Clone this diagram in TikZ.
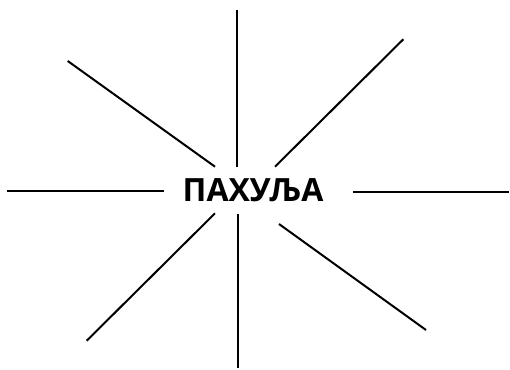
\documentclass[tikz,border=0pt]{standalone}
\usepackage{fontspec}
\setmainfont{Open Sans}
\begin{document}
\begin{tikzpicture}[x=0.75pt,y=-0.75pt,ray/.style={draw=black,line width=1.5pt}]
\useasboundingbox (0,0) rectangle (510,370);
\node[font=\fontsize{24pt}{28pt}\selectfont\bfseries,inner sep=0pt] (word) at (253,190) {ПАХУЉА};
\coordinate (t1) at (236.5,10.5); \coordinate (t2) at (236.5,167);
\coordinate (tl1) at (67.7,61); \coordinate (tl2) at (215,166.7);
\coordinate (tr1) at (403.3,39.3); \coordinate (tr2) at (275,166.7);
\coordinate (l1) at (7,191); \coordinate (l2) at (164,191);
\coordinate (r1) at (353.3,192); \coordinate (r2) at (509,192);
\coordinate (bl1) at (215,213.3); \coordinate (bl2) at (86.7,340.7);
\coordinate (b1) at (237.7,214.3); \coordinate (b2) at (237.7,368);
\coordinate (br1) at (279,224); \coordinate (br2) at (426,330);
\path[ray] (t1) -- (t2);
\path[ray] (tl1) -- (tl2);
\path[ray] (tr1) -- (tr2);
\path[ray] (l1) -- (l2);
\path[ray] (r1) -- (r2);
\path[ray] (bl1) -- (bl2);
\path[ray] (b1) -- (b2);
\path[ray] (br1) -- (br2);
\end{tikzpicture}
\end{document}
